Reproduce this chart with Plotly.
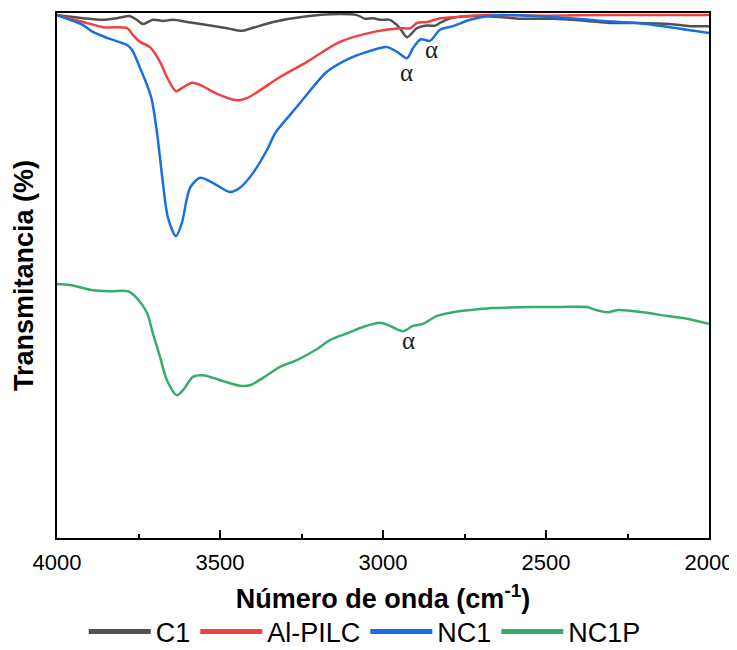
import plotly.graph_objects as go

# ---- data ----
c1_x = [4000, 3920, 3859, 3816, 3776, 3755, 3736, 3706, 3675, 3644, 3601, 3540, 3479, 3433, 3408,
        3337, 3233, 3132, 3080, 3055, 3031, 3009, 2979, 2957, 2948, 2926, 2896, 2865, 2840, 2825,
        2794, 2733, 2632, 2580, 2479, 2374, 2304, 2221, 2120, 2058, 2000]
c1_y = [99.6, 99.0, 98.7, 99.0, 99.4, 98.7, 97.9, 98.7, 98.5, 98.7, 98.3, 97.7, 97.1, 96.6, 97.0,
        98.3, 99.4, 99.8, 99.6, 98.9, 99.0, 98.7, 98.7, 97.7, 97.1, 95.4, 97.1, 97.6, 97.6, 98.1,
        99.0, 99.4, 99.2, 98.9, 98.9, 98.5, 98.1, 98.1, 97.9, 97.5, 97.5]

alpilc_x = [4000, 3920, 3859, 3785, 3767, 3745, 3715, 3684, 3663, 3635, 3617, 3586, 3561, 3509,
            3448, 3417, 3316, 3233, 3132, 3020, 2948, 2917, 2896, 2865, 2825, 2785, 2681, 2500,
            2300, 2000]
alpilc_y = [99.6, 98.3, 97.3, 97.1, 95.8, 94.5, 93.5, 90.7, 87.8, 85.1, 85.7, 86.7, 86.3, 84.6,
            83.4, 83.8, 87.8, 90.7, 94.5, 96.5, 97.1, 97.1, 98.1, 98.3, 99.0, 99.2, 99.6, 99.5,
            99.6, 99.6]

nc1_x = [4000, 3960, 3920, 3890, 3844, 3785, 3770, 3745, 3724, 3709, 3693, 3675, 3660, 3635,
         3617, 3592, 3561, 3521, 3469, 3439, 3399, 3356, 3330, 3285, 3250, 3172, 3101, 3049,
         2988, 2957, 2926, 2908, 2884, 2856, 2825, 2785, 2733, 2681, 2632, 2528, 2426, 2325,
         2221, 2120, 2000]
nc1_y = [99.6, 98.7, 97.7, 96.4, 95.2, 93.9, 93.0, 89.5, 86.3, 83.4, 77.1, 67.6, 61.1, 57.5,
         60.0, 66.7, 68.6, 67.6, 65.9, 66.7, 69.5, 73.9, 77.2, 80.6, 83.2, 88.8, 91.4, 92.6,
         93.5, 92.6, 91.4, 93.3, 95.0, 94.7, 96.8, 97.5, 98.7, 99.4, 99.6, 99.4, 99.0, 98.5,
         98.1, 97.3, 96.2]

nc1p_x = [4000, 3960, 3890, 3837, 3782, 3755, 3724, 3706, 3684, 3663, 3632, 3613, 3583, 3552,
          3521, 3491, 3439, 3408, 3368, 3316, 3264, 3202, 3163, 3110, 3061, 3009, 2979, 2939,
          2908, 2877, 2834, 2785, 2702, 2663, 2540, 2457, 2374, 2356, 2310, 2282, 2202, 2150,
          2080, 2000]
nc1p_y = [48.4, 48.2, 47.2, 47.0, 47.0, 45.7, 42.9, 39.0, 34.5, 30.1, 27.2, 28.2, 30.7, 31.0,
          30.5, 29.9, 29.0, 29.1, 30.5, 32.6, 33.9, 36.0, 37.7, 39.0, 40.2, 41.0, 40.4, 39.4,
          40.4, 40.8, 42.3, 43.0, 43.6, 43.8, 44.0, 44.0, 44.0, 43.6, 43.0, 43.4, 43.0, 42.5,
          41.9, 40.8]

series_names = ["C1", "Al-PILC", "NC1", "NC1P"]
series_colors = ["#515151", "#F14040", "#1A6FDF", "#37AD6B"]

alpha_x = [2929, 2850, 2923]
alpha_y = [88.6, 93.0, 37.7]

x_ticks = [4000, 3500, 3000, 2500, 2000]

# ---- figure ----
fig = go.Figure()
for name, xs, ys, col in zip(series_names,
                             [c1_x, alpilc_x, nc1_x, nc1p_x],
                             [c1_y, alpilc_y, nc1_y, nc1p_y],
                             series_colors):
    fig.add_trace(go.Scatter(x=xs, y=ys, name=name, mode="lines",
                             line=dict(color=col, width=2.5, shape="spline", smoothing=0.8)))

for ax, ay in zip(alpha_x, alpha_y):
    fig.add_annotation(x=ax, y=ay, text="α", showarrow=False,
                       font=dict(family="Liberation Serif", size=25, color="#222222"))

# the page body has an 8px default margin, so margins are offset by 8px
fig.update_layout(
    width=737, height=650,
    margin=dict(l=49, r=36, t=5, b=120, autoexpand=False),
    plot_bgcolor="white", paper_bgcolor="white",
    font=dict(family="Liberation Sans, Arial", color="black"),
    showlegend=True,
    legend=dict(orientation="h", x=0.472, xanchor="center", y=-0.179, yanchor="middle",
                font=dict(size=27), itemwidth=62, traceorder="normal",
                tracegroupgap=0, itemsizing="constant"),
)
fig.update_xaxes(
    range=[4000, 2000], autorange=False, automargin=False,
    tickvals=x_ticks, ticktext=[str(v) for v in x_ticks],
    ticks="inside", ticklen=8, tickwidth=1.5, tickcolor="black",
    minor=dict(dtick=250, ticks="inside", ticklen=4, tickwidth=1.5, tickcolor="black"),
    showline=True, linecolor="black", linewidth=2, mirror=True,
    showgrid=False, zeroline=False,
    tickfont=dict(size=22), ticklabelstandoff=4,
    title=dict(text="<b>Número de onda (cm<sup>-1</sup>)</b>", font=dict(size=27), standoff=15),
)
fig.update_yaxes(
    range=[0, 100], autorange=False, automargin=False,
    showticklabels=False, ticks="",
    showline=True, linecolor="black", linewidth=2, mirror=True,
    showgrid=False, zeroline=False,
    title=dict(text="<b>Transmitancia (%)</b>", font=dict(size=27), standoff=14),
)

fig.write_html("out.html")
